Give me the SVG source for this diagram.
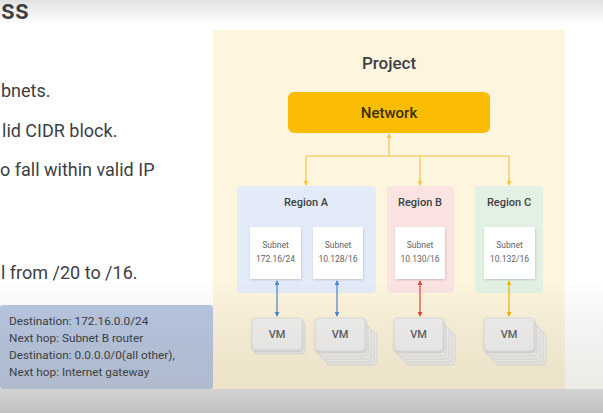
<svg xmlns="http://www.w3.org/2000/svg" width="603" height="413" viewBox="0 0 603 413">
  <defs>
    <style>
      text { font-family: Roboto, "Open Sans", "Liberation Sans", sans-serif; }
      .txt { fill: #3c4043; }
      .body { font-size: 18px; }
      .region-label { font-size: 11px; font-weight: 500; text-anchor: middle; fill: #3c4043; }
      .subnet-box { fill: #ffffff; }
      .subnet-txt { font-size: 8.5px; fill: #5f6368; text-anchor: middle; }
      .vm-box { fill: #f2f2f2; stroke: #dadada; stroke-width: 0.8; }
      .vm-txt { font-size: 11px; fill: #5f6368; text-anchor: middle; font-weight: 500; }
      .route-txt { font-size: 11.8px; fill: #3c4043; }
      .link-y { stroke: #f5c342; stroke-width: 1.2; fill: none; }
      .link-b { stroke: #4a86d8; stroke-width: 1.2; fill: none; }
      .link-r { stroke: #d9473b; stroke-width: 1.2; fill: none; }
      .link-g { stroke: #f4b400; stroke-width: 1.2; fill: none; }
    </style>
    <linearGradient id="topShade" x1="0" y1="0" x2="0" y2="1">
      <stop offset="0" stop-color="#e2e2e2"/>
      <stop offset="1" stop-color="#ffffff"/>
    </linearGradient>
    <linearGradient id="bottomShade" x1="0" y1="0" x2="0" y2="1">
      <stop offset="0" stop-color="#000000" stop-opacity="0"/>
      <stop offset="1" stop-color="#6b5a2a" stop-opacity="0.12"/>
    </linearGradient>
    <linearGradient id="floor" x1="0" y1="0" x2="0" y2="1">
      <stop offset="0" stop-color="#d2d2d2"/>
      <stop offset="1" stop-color="#c2c2c2"/>
    </linearGradient>
    <filter id="shadow" x="-20%" y="-20%" width="150%" height="150%">
      <feDropShadow dx="0.5" dy="1" stdDeviation="0.8" flood-color="#000" flood-opacity="0.18"/>
    </filter>
    <marker id="arrY" viewBox="0 0 6 6" refX="5" refY="3" markerWidth="5" markerHeight="5" orient="auto-start-reverse" markerUnits="userSpaceOnUse">
      <path d="M0,0 L6,3 L0,6 Z" fill="#f5c342"/>
    </marker>
    <marker id="arrB" viewBox="0 0 6 6" refX="5" refY="3" markerWidth="5" markerHeight="5" orient="auto-start-reverse" markerUnits="userSpaceOnUse">
      <path d="M0,0 L6,3 L0,6 Z" fill="#4a86d8"/>
    </marker>
    <marker id="arrR" viewBox="0 0 6 6" refX="5" refY="3" markerWidth="5" markerHeight="5" orient="auto-start-reverse" markerUnits="userSpaceOnUse">
      <path d="M0,0 L6,3 L0,6 Z" fill="#d9473b"/>
    </marker>
    <marker id="arrG" viewBox="0 0 6 6" refX="5" refY="3" markerWidth="5" markerHeight="5" orient="auto-start-reverse" markerUnits="userSpaceOnUse">
      <path d="M0,0 L6,3 L0,6 Z" fill="#f4b400"/>
    </marker>
  </defs>

  <!-- slide background -->
  <rect x="0" y="0" width="603" height="413" fill="#ffffff"/>
  <rect x="0" y="0" width="603" height="24" fill="url(#topShade)"/>

  <!-- slide title and bullet text -->
  <text class="txt" x="1" y="19" font-size="27" font-weight="500" fill="#202124">ss</text>
  <text class="txt body" x="1" y="97">bnets.</text>
  <text class="txt body" x="2" y="137">lid CIDR block.</text>
  <text class="txt body" x="0" y="176">o fall within valid IP</text>
  <text class="txt body" x="1" y="279">l from /20 to /16.</text>

  <!-- project panel -->
  <g id="project">
    <rect x="213" y="30" width="352" height="359" fill="#fdf5dd"/>
    <text class="txt" x="389" y="69" font-size="17" font-weight="500" text-anchor="middle">Project</text>
  </g>

  <g id="network">
    <rect x="288" y="92" width="202" height="41" rx="6" fill="#fbbc04"/>
    <text x="389" y="118" font-size="15" font-weight="500" text-anchor="middle" fill="#3c3000">Network</text>
  </g>

  <g id="region-a">
    <rect x="237" y="186" width="139" height="107" rx="4" fill="#e4ebf8"/>
    <text class="region-label" x="306" y="206">Region A</text>
  </g>
  <g id="region-b">
    <rect x="387" y="186" width="67" height="107" rx="4" fill="#fae3e1"/>
    <text class="region-label" x="420" y="206">Region B</text>
  </g>
  <g id="region-c">
    <rect x="475" y="186" width="68" height="107" rx="4" fill="#e3f1e4"/>
    <text class="region-label" x="509" y="206">Region C</text>
  </g>

  <g id="subnet-a1">
    <rect class="subnet-box" x="250" y="227" width="51" height="52" filter="url(#shadow)"/>
    <text class="subnet-txt" x="275.5" y="248">Subnet</text>
    <text class="subnet-txt" x="275.5" y="262">172.16/24</text>
  </g>
  <g id="subnet-a2">
    <rect class="subnet-box" x="313" y="227" width="50" height="52" filter="url(#shadow)"/>
    <text class="subnet-txt" x="338" y="248">Subnet</text>
    <text class="subnet-txt" x="338" y="262">10.128/16</text>
  </g>
  <g id="subnet-b">
    <rect class="subnet-box" x="395" y="227" width="50" height="52" filter="url(#shadow)"/>
    <text class="subnet-txt" x="420" y="248">Subnet</text>
    <text class="subnet-txt" x="420" y="262">10.130/16</text>
  </g>
  <g id="subnet-c">
    <rect class="subnet-box" x="484" y="227" width="51" height="52" filter="url(#shadow)"/>
    <text class="subnet-txt" x="509.5" y="248">Subnet</text>
    <text class="subnet-txt" x="509.5" y="262">10.132/16</text>
  </g>

  <!-- VMs: a single instance and stacked groups -->
  <g id="vm-a1">
    <rect class="vm-box" x="255" y="322" width="50" height="32" rx="3"/>
    <rect class="vm-box" x="252" y="318" width="50" height="32" rx="3" filter="url(#shadow)"/>
    <text class="vm-txt" x="277" y="338">VM</text>
  </g>
  <g id="vm-a2">
    <rect class="vm-box" x="327" y="333" width="50" height="32" rx="3"/>
    <rect class="vm-box" x="324" y="330" width="50" height="32" rx="3"/>
    <rect class="vm-box" x="321" y="327" width="50" height="32" rx="3"/>
    <rect class="vm-box" x="318" y="324" width="50" height="32" rx="3"/>
    <rect class="vm-box" x="315" y="318" width="50" height="33" rx="3" filter="url(#shadow)"/>
    <text class="vm-txt" x="340" y="338">VM</text>
  </g>
  <g id="vm-b">
    <rect class="vm-box" x="406" y="333" width="49" height="32" rx="3"/>
    <rect class="vm-box" x="403" y="330" width="49" height="32" rx="3"/>
    <rect class="vm-box" x="400" y="327" width="49" height="32" rx="3"/>
    <rect class="vm-box" x="397" y="324" width="49" height="32" rx="3"/>
    <rect class="vm-box" x="394" y="318" width="49" height="33" rx="3" filter="url(#shadow)"/>
    <text class="vm-txt" x="418.5" y="338">VM</text>
  </g>
  <g id="vm-c">
    <rect class="vm-box" x="496" y="333" width="50" height="32" rx="3"/>
    <rect class="vm-box" x="493" y="330" width="50" height="32" rx="3"/>
    <rect class="vm-box" x="490" y="327" width="50" height="32" rx="3"/>
    <rect class="vm-box" x="487" y="324" width="50" height="32" rx="3"/>
    <rect class="vm-box" x="484" y="318" width="50" height="33" rx="3" filter="url(#shadow)"/>
    <text class="vm-txt" x="509" y="338">VM</text>
  </g>

  <!-- connectors -->
  <g id="connectors">
    <path class="link-y" d="M389,156 L389,134" marker-end="url(#arrY)"/>
    <path class="link-y" d="M306,156 L509,156"/>
    <path class="link-y" d="M306,156 L306,185" marker-end="url(#arrY)"/>
    <path class="link-y" d="M420,156 L420,185" marker-end="url(#arrY)"/>
    <path class="link-y" d="M509,156 L509,185" marker-end="url(#arrY)"/>
    <path class="link-b" d="M277,281 L277,316" marker-start="url(#arrB)" marker-end="url(#arrB)"/>
    <path class="link-b" d="M337,281 L337,316" marker-start="url(#arrB)" marker-end="url(#arrB)"/>
    <path class="link-r" d="M420,281 L420,316" marker-start="url(#arrR)" marker-end="url(#arrR)"/>
    <path class="link-g" d="M509,281 L509,316" marker-start="url(#arrG)" marker-end="url(#arrG)"/>
  </g>

  <!-- route table callout -->
  <g id="routes">
    <rect x="0" y="305" width="213" height="84" rx="3" fill="#b9c8e3"/>
    <text class="route-txt" x="9" y="325">Destination: 172.16.0.0/24</text>
    <text class="route-txt" x="9" y="342">Next hop: Subnet B router</text>
    <text class="route-txt" x="9" y="359">Destination: 0.0.0.0/0(all other),</text>
    <text class="route-txt" x="9" y="376">Next hop: Internet gateway</text>
  </g>

  <!-- lower shading and floor band -->
  <rect x="0" y="280" width="603" height="109" fill="url(#bottomShade)"/>
  <rect x="0" y="389" width="603" height="24" fill="url(#floor)"/>
</svg>
